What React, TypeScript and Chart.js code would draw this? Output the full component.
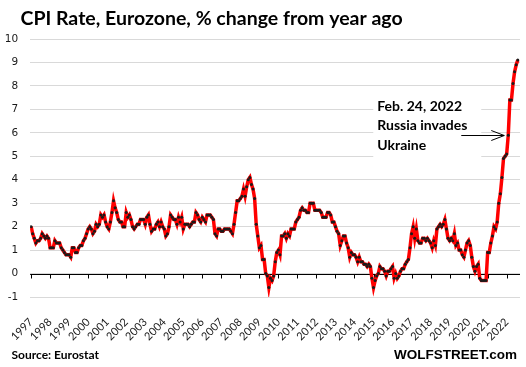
import { useEffect, useRef } from 'react';
import { Chart, registerables } from 'chart.js';

Chart.register(...registerables);

// Tick labels of the time axis (one per January)
const years = [
  '1997', '1998', '1999', '2000', '2001', '2002', '2003', '2004', '2005',
  '2006', '2007', '2008', '2009', '2010', '2011', '2012', '2013', '2014',
  '2015', '2016', '2017', '2018', '2019', '2020', '2021', '2022',
];

// Monthly CPI rate, % change from year ago, starting Jan 1997
const cpiRate = [
  /* 1997 */ 2.0, 1.7, 1.5, 1.3, 1.4, 1.4, 1.5, 1.7, 1.6, 1.5, 1.6, 1.5,
  /* 1998 */ 1.1, 1.1, 1.1, 1.4, 1.3, 1.3, 1.3, 1.1, 1.0, 0.9, 0.8, 0.8,
  /* 1999 */ 0.8, 0.7, 1.1, 1.1, 0.9, 0.9, 1.1, 1.2, 1.2, 1.4, 1.5, 1.7,
  /* 2000 */ 1.9, 2.0, 1.9, 1.7, 1.8, 2.1, 2.0, 2.1, 2.5, 2.4, 2.5, 2.2,
  /* 2001 */ 2.0, 1.9, 2.2, 2.6, 3.1, 2.8, 2.6, 2.3, 2.2, 2.2, 2.0, 2.0,
  /* 2002 */ 2.6, 2.4, 2.5, 2.3, 2.0, 1.9, 2.0, 2.1, 2.1, 2.3, 2.3, 2.3,
  /* 2003 */ 2.1, 2.4, 2.5, 2.1, 1.8, 1.9, 1.9, 2.1, 2.2, 2.0, 2.2, 2.0,
  /* 2004 */ 1.9, 1.6, 1.7, 2.0, 2.5, 2.4, 2.3, 2.3, 2.1, 2.4, 2.2, 2.4,
  /* 2005 */ 1.9, 2.1, 2.1, 2.1, 2.0, 2.1, 2.2, 2.2, 2.6, 2.5, 2.3, 2.2,
  /* 2006 */ 2.4, 2.3, 2.2, 2.5, 2.5, 2.5, 2.4, 2.3, 1.7, 1.6, 1.9, 1.9,
  /* 2007 */ 1.8, 1.8, 1.9, 1.9, 1.9, 1.9, 1.8, 1.7, 2.1, 2.6, 3.1, 3.1,
  /* 2008 */ 3.2, 3.3, 3.6, 3.3, 3.7, 4.0, 4.1, 3.8, 3.6, 3.2, 2.1, 1.6,
  /* 2009 */ 1.1, 1.2, 0.6, 0.6, 0.0, -0.1, -0.6, -0.2, -0.3, -0.1, 0.5, 0.9,
  /* 2010 */ 1.0, 0.8, 1.6, 1.6, 1.7, 1.5, 1.7, 1.6, 1.9, 1.9, 1.9, 2.2,
  /* 2011 */ 2.3, 2.4, 2.7, 2.8, 2.7, 2.7, 2.6, 2.6, 3.0, 3.0, 3.0, 2.7,
  /* 2012 */ 2.7, 2.7, 2.7, 2.6, 2.4, 2.4, 2.4, 2.6, 2.6, 2.5, 2.2, 2.2,
  /* 2013 */ 2.0, 1.8, 1.7, 1.2, 1.4, 1.6, 1.6, 1.3, 1.1, 0.7, 0.9, 0.8,
  /* 2014 */ 0.8, 0.7, 0.5, 0.7, 0.5, 0.5, 0.4, 0.4, 0.3, 0.4, 0.3, -0.2,
  /* 2015 */ -0.6, -0.3, -0.1, 0.0, 0.3, 0.2, 0.2, 0.1, -0.1, 0.1, 0.1, 0.2,
  /* 2016 */ 0.3, -0.2, 0.0, -0.2, -0.1, 0.1, 0.2, 0.2, 0.4, 0.5, 0.6, 1.1,
  /* 2017 */ 1.7, 2.0, 1.5, 1.9, 1.4, 1.3, 1.3, 1.5, 1.5, 1.4, 1.5, 1.4,
  /* 2018 */ 1.3, 1.1, 1.4, 1.2, 1.9, 2.0, 2.1, 2.0, 2.1, 2.3, 1.9, 1.5,
  /* 2019 */ 1.4, 1.5, 1.4, 1.7, 1.2, 1.3, 1.0, 1.0, 0.8, 0.7, 1.0, 1.3,
  /* 2020 */ 1.4, 1.2, 0.7, 0.3, 0.1, 0.3, 0.4, -0.2, -0.3, -0.3, -0.3, -0.3,
  /* 2021 */ 0.9, 0.9, 1.3, 1.6, 2.0, 1.9, 2.2, 3.0, 3.4, 4.1, 4.9, 5.0,
  /* 2022 */ 5.1, 5.9, 7.4, 7.4, 8.1, 8.6, 8.9, 9.1,
];

const titleText = 'CPI Rate, Eurozone, % change from year ago';
const sourceText = 'Source: Eurostat';
const brandText = 'WOLFSTREET.com';
const noteLines = ['Feb. 24, 2022', 'Russia invades', 'Ukraine'];
const noteMonthIndex = 301; // Feb 2022

const decorPlugin = {
  id: 'decor',
  beforeDatasetsDraw(chart: any) {
    const { ctx, chartArea, scales } = chart;
    const xs = scales.x;
    const ys = scales.y;
    ctx.save();
    // white box behind the annotation
    const tx = xs.getPixelForValue(noteMonthIndex);
    const ty = ys.getPixelForValue(cpiRate[noteMonthIndex]);
    ctx.fillStyle = '#ffffff';
    ctx.fillRect(tx - 135, ty - 40, 108, 62);
    // zero axis with tick marks
    const y0 = Math.round(ys.getPixelForValue(0)) + 0.5;
    ctx.strokeStyle = '#000000';
    ctx.lineWidth = 1;
    ctx.beginPath();
    ctx.moveTo(chartArea.left, y0);
    ctx.lineTo(chartArea.right, y0);
    years.forEach((_, i) => {
      const px = Math.round(xs.getPixelForValue(i * 12)) + 0.5;
      ctx.moveTo(px, y0);
      ctx.lineTo(px, y0 + 4);
    });
    ctx.stroke();
    ctx.restore();
  },
  afterDraw(chart: any) {
    const { ctx, scales } = chart;
    const xs = scales.x;
    const ys = scales.y;
    ctx.save();
    ctx.fillStyle = '#000000';
    ctx.textBaseline = 'alphabetic';
    ctx.textAlign = 'left';
    ctx.font = 'bold 19.5px Lato';
    ctx.fillText(titleText, 20.5, 24.5);
    ctx.font = 'bold 12px Lato';
    ctx.fillText(sourceText, 11.5, 358.5);
    ctx.textAlign = 'right';
    ctx.font = 'bold 13.5px "Liberation Sans"';
    ctx.fillText(brandText, 517, 358.5);

    // annotation
    const tx = xs.getPixelForValue(noteMonthIndex);
    const ty = Math.round(ys.getPixelForValue(cpiRate[noteMonthIndex])) + 0.5;
    ctx.textAlign = 'left';
    ctx.font = 'bold 14px Lato';
    noteLines.forEach((line, i) => {
      ctx.fillText(line, tx - 131, ty - 25 + i * 19.5);
    });
    ctx.strokeStyle = '#000000';
    ctx.lineWidth = 1;
    const tip = tx - 4;
    ctx.beginPath();
    ctx.moveTo(tx - 47, ty);
    ctx.lineTo(tip, ty);
    ctx.moveTo(tip - 13, ty - 5);
    ctx.lineTo(tip, ty);
    ctx.lineTo(tip - 13, ty + 5);
    ctx.stroke();
    ctx.restore();
  },
};

export default function App() {
  const ref = useRef<HTMLCanvasElement>(null);

  useEffect(() => {
    document.body.style.margin = '0';
    const canvas = ref.current;
    if (!canvas) return;
    const chart = new Chart(canvas, {
      type: 'line',
      data: {
        datasets: [
          {
            label: 'CPI Rate',
            data: cpiRate.map((v, i) => ({ x: i, y: v })),
            borderColor: '#ff0000',
            borderWidth: 3.5,
            pointRadius: 1.5,
            pointBackgroundColor: '#1a1a1a',
            pointBorderWidth: 0,
            pointHoverRadius: 0,
            tension: 0,
          },
        ],
      },
      options: {
        responsive: false,
        animation: false,
        events: [],
        layout: { padding: { top: 39, right: 6, left: 0, bottom: 0 } },
        plugins: {
          legend: { display: false },
          title: { display: false },
          tooltip: { enabled: false },
        },
        scales: {
          x: {
            type: 'linear',
            min: -0.6,
            max: 308.4,
            grid: { display: false },
            border: { display: false },
            afterBuildTicks: (scale: any) => {
              scale.ticks = years.map((_, i) => ({ value: i * 12 }));
            },
            afterFit: (scale: any) => {
              scale.height = 70;
            },
            ticks: {
              autoSkip: false,
              maxRotation: 45,
              minRotation: 45,
              padding: 13,
              color: '#1a1a1a',
              font: { family: 'Lato', size: 11, lineHeight: 0.6 },
              callback: (_v: any, index: number) => years[index],
            },
          },
          y: {
            min: -1,
            max: 10,
            grid: { color: '#d9d9d9', drawTicks: false },
            border: { display: false },
            afterFit: (scale: any) => {
              scale.width = 28;
            },
            ticks: {
              stepSize: 1,
              padding: 12,
              color: '#1a1a1a',
              font: { family: 'DejaVu Sans', size: 10.5 },
            },
          },
        },
      },
      plugins: [decorPlugin],
    });
    return () => chart.destroy();
  }, []);

  return (
    <div style={{ width: 526, height: 367 }}>
      <canvas ref={ref} width={526} height={367} style={{ display: 'block' }} />
    </div>
  );
}
